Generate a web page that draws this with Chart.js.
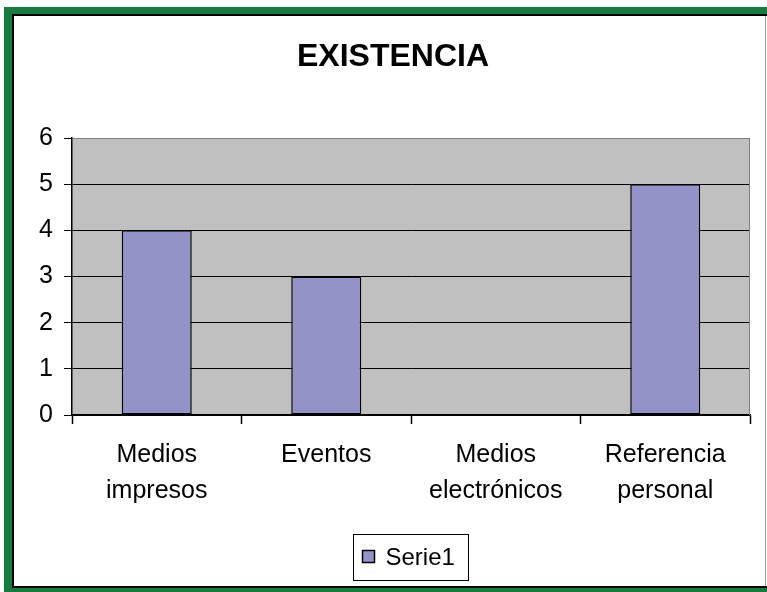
<!DOCTYPE html>
<html>
<head>
<meta charset="utf-8">
<title>EXISTENCIA</title>
<script src="https://cdn.jsdelivr.net/npm/chart.js@4/dist/chart.umd.min.js"></script>
<style>
  html, body { margin: 0; padding: 0; background: #ffffff; }
  #wrap { width: 767px; height: 592px; position: relative; }
</style>
</head>
<body>
<div id="wrap"><canvas id="chart" width="767" height="592"></canvas></div>
<script>
// Categories (two-line labels) and the single series
const categories = [
  ['Medios', 'impresos'],
  ['Eventos'],
  ['Medios', 'electrónicos'],
  ['Referencia', 'personal']
];
const seriesName = 'Serie1';
const serie1 = [4, 3, 0, 5];
const yTicks = [0, 1, 2, 3, 4, 5, 6];

const FONT = "'Liberation Sans', Arial, sans-serif";
const BAR_COLOR = '#9393c8';

// Green outer frame with a dark inner edge
const framePlugin = {
  id: 'frame',
  beforeDraw(chart) {
    const c = chart.ctx;
    c.save();
    c.fillStyle = '#ffffff';
    c.fillRect(0, 0, 767, 592);
    c.fillStyle = '#167b3f';
    c.fillRect(4, 7, 763, 585);
    c.fillStyle = '#000000';
    c.fillRect(12, 14, 755, 574);
    c.fillStyle = '#ffffff';
    c.fillRect(14, 16, 753, 570);
    c.strokeStyle = '#a0a0a0';
    c.lineWidth = 1;
    c.beginPath();
    c.moveTo(765.5, 16);
    c.lineTo(765.5, 586);
    c.stroke();
    c.restore();
  }
};

// Gray plot background with a gray right edge
const plotAreaPlugin = {
  id: 'plotArea',
  beforeDraw(chart) {
    const a = chart.chartArea;
    const c = chart.ctx;
    c.save();
    c.fillStyle = '#c0c0c0';
    c.fillRect(a.left, a.top, a.right - a.left, a.bottom - a.top);
    c.restore();
  },
  afterDraw(chart) {
    const a = chart.chartArea;
    const c = chart.ctx;
    c.save();
    c.strokeStyle = '#808080';
    c.lineWidth = 1;
    c.beginPath();
    c.moveTo(Math.round(a.right) - 0.5, a.top);
    c.lineTo(Math.round(a.right) - 0.5, a.bottom);
    c.stroke();
    c.restore();
  }
};

// Boxed legend under the axis labels
const boxedLegendPlugin = {
  id: 'boxedLegend',
  afterDraw(chart) {
    const c = chart.ctx;
    const a = chart.chartArea;
    const ds = chart.data.datasets[0];
    c.save();
    c.font = '24px ' + FONT;
    const tw = c.measureText(ds.label).width;
    const sq = 12, gap = 11, padL = 9, padR = 14;
    const w = padL + sq + gap + tw + padR;
    const h = 46;
    const cx = (a.left + a.right) / 2;
    const x = Math.round(cx - w / 2) + 0.5;
    const y = 534.5;
    c.strokeStyle = '#000000';
    c.lineWidth = 1;
    c.strokeRect(x, y, Math.round(w), h);
    const sx = x + padL, sy = y + 16;
    c.fillStyle = ds.backgroundColor;
    c.fillRect(sx, sy, sq, sq);
    c.strokeStyle = '#000000';
    c.lineWidth = 1.5;
    c.strokeRect(sx, sy, sq, sq);
    c.fillStyle = '#000000';
    c.textBaseline = 'middle';
    c.textAlign = 'left';
    c.fillText(ds.label, sx + sq + gap, y + h / 2 + 1);
    c.restore();
  }
};

new Chart(document.getElementById('chart'), {
  type: 'bar',
  data: {
    labels: categories,
    datasets: [{
      label: seriesName,
      data: serie1,
      backgroundColor: BAR_COLOR,
      borderColor: '#000000',
      borderWidth: 1.5,
      borderSkipped: false,
      categoryPercentage: 1.0,
      barPercentage: 0.413
    }]
  },
  plugins: [framePlugin, plotAreaPlugin, boxedLegendPlugin],
  options: {
    responsive: false,
    animation: false,
    devicePixelRatio: 1,
    layout: { padding: { left: 36, right: 17, top: 0, bottom: 0 } },
    plugins: {
      legend: { display: false },
      tooltip: { enabled: false },
      title: {
        display: true,
        text: 'EXISTENCIA',
        color: '#000000',
        font: { family: FONT, size: 32, weight: 'bold', lineHeight: 1.2 },
        padding: { top: 37.6, bottom: 62 }
      }
    },
    scales: {
      x: {
        offset: true,
        grid: {
          offset: true,
          drawOnChartArea: false,
          tickLength: 9,
          tickColor: '#000000',
          tickWidth: 1.5
        },
        border: { display: true, color: '#000000', width: 1.5 },
        ticks: {
          color: '#000000',
          padding: 13,
          maxRotation: 0,
          autoSkip: false,
          font: { family: FONT, size: 25, lineHeight: 1.45 }
        },
        afterFit(scale) { scale.height = 177; }
      },
      y: {
        min: 0,
        max: 6,
        afterBuildTicks(scale) { scale.ticks = yTicks.map(v => ({ value: v })); },
        grid: {
          color: ctx => (ctx.tick && ctx.tick.value === 6) ? '#808080' : '#000000',
          lineWidth: 1,
          tickLength: 8,
          tickColor: '#000000',
          tickWidth: 1
        },
        border: { display: true, color: '#000000', width: 1.5 },
        ticks: {
          color: '#000000',
          padding: 11,
          font: { family: FONT, size: 25 }
        },
        afterFit(scale) { scale.width = 36; }
      }
    }
  }
});
</script>
</body>
</html>
